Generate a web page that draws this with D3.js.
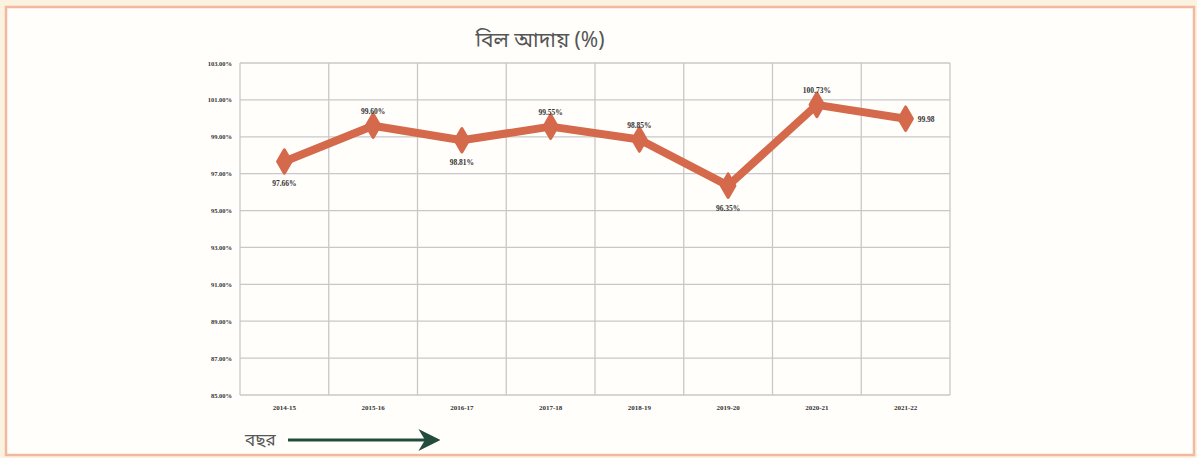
<!DOCTYPE html>
<html>
<head>
<meta charset="utf-8">
<script src="https://cdn.jsdelivr.net/npm/d3@7"></script>
<style>
  body { margin: 0; background: #fbf3df; }
  svg { display: block; }
</style>
</head>
<body>
<div id="chart"></div>
<script>
// 数据
const years = ['2014-15', '2015-16', '2016-17', '2017-18', '2018-19', '2019-20', '2020-21', '2021-22'];
const collection = [97.66, 99.60, 98.81, 99.55, 98.85, 96.35, 100.73, 99.98];
const pointLabels = ['97.66%', '99.60%', '98.81%', '99.55%', '98.85%', '96.35%', '100.73%', '99.98'];
const yTicks = [85, 87, 89, 91, 93, 95, 97, 99, 101, 103];

const width = 1197;
const height = 458;
const margin = { top: 63, right: 247, bottom: 63, left: 240 };

const colors = {
  frame: '#f2b9a0',
  line: '#d5694b',
  grid: '#c8c8c8',
  axisText: '#333333',
  title: '#555555',
  arrow: '#234c3c'
};

const svg = d3.select('#chart')
  .append('svg')
  .attr('width', width)
  .attr('height', height);

// 外框
svg.append('rect')
  .attr('x', 6).attr('y', 7)
  .attr('width', width - 9).attr('height', height - 10)
  .attr('fill', '#fffefb')
  .attr('stroke', colors.frame)
  .attr('stroke-width', 2.5);

const x = d3.scaleBand()
  .domain(years)
  .range([margin.left, width - margin.right]);

const y = d3.scaleLinear()
  .domain([85, 103])
  .range([height - margin.bottom, margin.top]);

// 网格
const grid = svg.append('g');
grid.selectAll('line.h')
  .data(yTicks)
  .enter()
  .append('line')
  .attr('x1', margin.left)
  .attr('x2', width - margin.right)
  .attr('y1', d => y(d))
  .attr('y2', d => y(d))
  .attr('stroke', colors.grid)
  .attr('stroke-width', 1.3);

grid.selectAll('line.v')
  .data(years.concat(['end']))
  .enter()
  .append('line')
  .attr('x1', (d, i) => margin.left + i * x.bandwidth())
  .attr('x2', (d, i) => margin.left + i * x.bandwidth())
  .attr('y1', y(103))
  .attr('y2', y(85))
  .attr('stroke', colors.grid)
  .attr('stroke-width', 1.3);

// Y 轴
const yAxis = svg.append('g')
  .attr('transform', `translate(${margin.left},0)`)
  .call(d3.axisLeft(y).tickValues(yTicks).tickSize(0).tickPadding(8)
    .tickFormat(d => d.toFixed(2) + '%'));
yAxis.select('.domain').remove();
yAxis.selectAll('text')
  .attr('font-family', 'Liberation Serif')
  .attr('font-weight', 'bold')
  .attr('font-size', 6.5)
  .attr('fill', colors.axisText);

// X 轴
const xAxis = svg.append('g')
  .attr('transform', `translate(0,${height - margin.bottom})`)
  .call(d3.axisBottom(x).tickSize(0).tickPadding(10));
xAxis.select('.domain').remove();
xAxis.selectAll('text')
  .attr('font-family', 'Liberation Serif')
  .attr('font-weight', 'bold')
  .attr('font-size', 7)
  .attr('fill', colors.axisText);

// 折线
const cx = d => x(d) + x.bandwidth() / 2;
const line = d3.line()
  .x((d, i) => cx(years[i]))
  .y(d => y(d));

svg.append('path')
  .datum(collection)
  .attr('d', line)
  .attr('fill', 'none')
  .attr('stroke', colors.line)
  .attr('stroke-width', 8)
  .attr('stroke-linejoin', 'round');

svg.append('g')
  .selectAll('path')
  .data(collection)
  .enter()
  .append('path')
  .attr('d', d3.symbol().type(d3.symbolDiamond).size(160))
  .attr('transform', (d, i) => `translate(${cx(years[i])},${y(d)})`)
  .attr('fill', colors.line)
  .attr('stroke', colors.line)
  .attr('stroke-width', 3)
  .attr('stroke-linejoin', 'round');

// 数据标签
const labelPos = ['below', 'above', 'below', 'above', 'above', 'below', 'above', 'right'];
svg.append('g')
  .selectAll('text')
  .data(collection)
  .enter()
  .append('text')
  .attr('x', (d, i) => labelPos[i] === 'right' ? cx(years[i]) + 12 : cx(years[i]))
  .attr('y', (d, i) => {
    if (labelPos[i] === 'below') return y(d) + 25;
    if (labelPos[i] === 'above') return y(d) - 12;
    return y(d) + 3;
  })
  .attr('text-anchor', (d, i) => labelPos[i] === 'right' ? 'start' : 'middle')
  .attr('font-family', 'Liberation Serif')
  .attr('font-weight', 'bold')
  .attr('font-size', 7.5)
  .attr('fill', colors.axisText)
  .text((d, i) => pointLabels[i]);

// 标题
svg.append('text')
  .attr('x', 540)
  .attr('y', 47)
  .attr('text-anchor', 'middle')
  .attr('font-family', 'Noto Sans Bengali, Noto Sans, sans-serif')
  .attr('font-size', 21)
  .attr('fill', colors.title)
  .text('বিল আদায় (%)');

// 底部箭头
svg.append('defs').append('marker')
  .attr('id', 'arrowhead')
  .attr('viewBox', '0 -5 10 10')
  .attr('refX', 8)
  .attr('refY', 0)
  .attr('orient', 'auto')
  .attr('markerWidth', 22)
  .attr('markerHeight', 22)
  .attr('markerUnits', 'userSpaceOnUse')
  .append('path')
  .attr('d', 'M0,-5 L10,0 L0,5 L3,0 Z')
  .attr('fill', colors.arrow);

svg.append('text')
  .attr('x', 245)
  .attr('y', 446)
  .attr('font-family', 'Noto Sans Bengali, Noto Sans, sans-serif')
  .attr('font-size', 17)
  .attr('fill', colors.title)
  .text('বছর');

svg.append('line')
  .attr('x1', 288).attr('y1', 440)
  .attr('x2', 436).attr('y2', 440)
  .attr('stroke', colors.arrow)
  .attr('stroke-width', 3)
  .attr('marker-end', 'url(#arrowhead)');
</script>
</body>
</html>
